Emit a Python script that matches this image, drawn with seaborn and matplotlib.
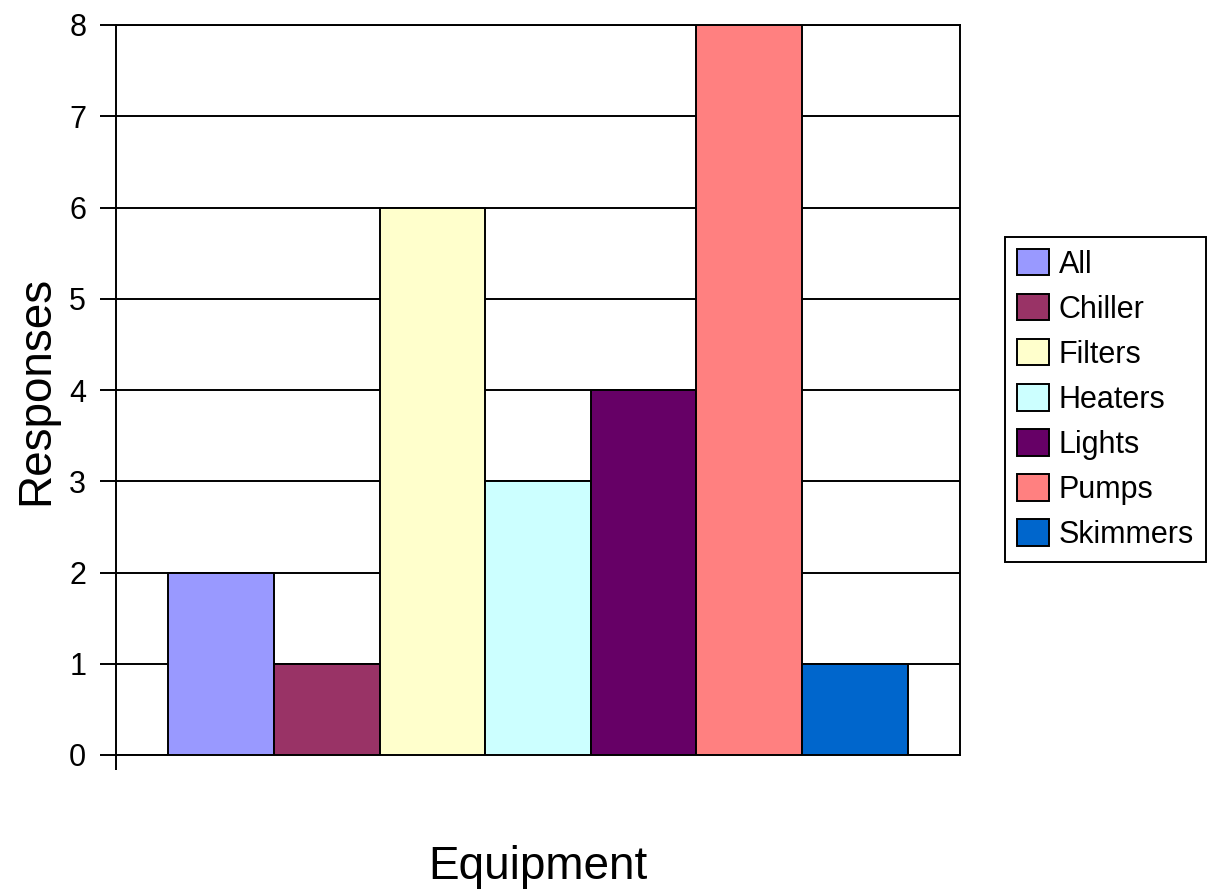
import numpy as np
import pandas as pd
import matplotlib
matplotlib.use("Agg")
import matplotlib.pyplot as plt
import seaborn as sns

# data
equipment = ["All", "Chiller", "Filters", "Heaters", "Lights", "Pumps", "Skimmers"]
responses = [2, 1, 6, 3, 4, 8, 1]
colors = ["#9999FF", "#993366", "#FFFFCC", "#CCFFFF", "#660066", "#FF8080", "#0066CC"]
yticks = [0, 1, 2, 3, 4, 5, 6, 7, 8]

sns.set_style("white")
plt.rcParams["font.family"] = ["Liberation Sans", "DejaVu Sans"]
plt.rcParams["text.color"] = "black"
plt.rcParams["axes.labelcolor"] = "black"
plt.rcParams["ytick.color"] = "black"
plt.rcParams["xtick.color"] = "black"

df = pd.DataFrame({"group": [""] * len(equipment),
                   "Equipment": equipment,
                   "Responses": responses})

fig = plt.figure(figsize=(12.12, 8.90), dpi=100)
ax = fig.add_axes([116 / 1212, 1 - 755 / 890, (960 - 116) / 1212, (755 - 25) / 890])

sns.barplot(data=df, x="group", y="Responses", hue="Equipment",
            palette=colors, width=0.876, edgecolor="black", linewidth=1.4,
            saturation=1, ax=ax, legend=True, zorder=3)

ax.set_xlim(-0.5, 0.5)
ax.set_ylim(0, 8)
ax.set_yticks(yticks)
ax.set_yticklabels([str(t) for t in yticks], fontsize=22)
ax.yaxis.grid(True, color="black", linewidth=1.4, zorder=0)
ax.set_axisbelow(True)

# category tick mark at the left edge only
ax.set_xticks([-0.5])
ax.set_xticklabels([""])
ax.tick_params(axis="x", direction="out", length=11, width=1.4, color="black", bottom=True)
ax.tick_params(axis="y", direction="out", length=11.5, width=1.4, color="black", left=True, pad=10)

for side in ["left", "bottom", "right", "top"]:
    ax.spines[side].set_visible(True)
    ax.spines[side].set_color("black")
    ax.spines[side].set_linewidth(1.4)

ax.set_ylabel("Responses", fontsize=33, labelpad=8)
ax.set_xlabel("Equipment", fontsize=33, labelpad=50)

handles, labels = ax.get_legend_handles_labels()
ax.legend_.remove()
leg = fig.legend(handles, labels, loc="center left", bbox_to_anchor=(1005 / 1212, 1 - 399.5 / 890),
                 fontsize=22, frameon=True, fancybox=False, framealpha=1, edgecolor="black",
                 handlelength=1.05, handleheight=0.95, handletextpad=0.3, labelspacing=0.47,
                 borderpad=0.4, borderaxespad=0)
leg.get_frame().set_linewidth(1.4)

fig.savefig("out.png", dpi=100)
